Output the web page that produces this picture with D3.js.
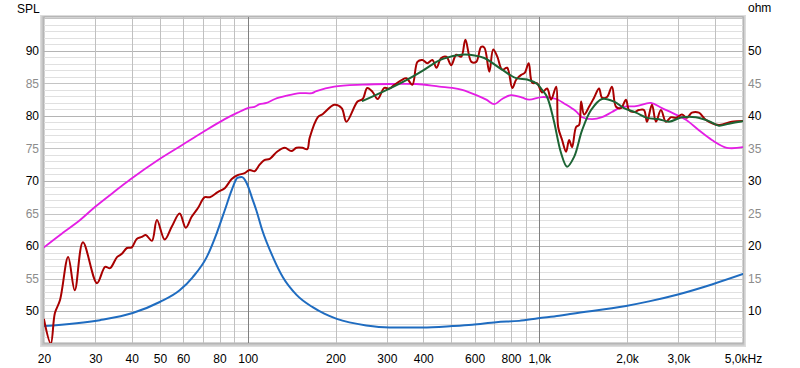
<!DOCTYPE html>
<html>
<head>
<meta charset="utf-8">
<script src="https://cdn.jsdelivr.net/npm/d3@7"></script>
<style>
  body { margin: 0; background: #fff; }
  svg text { font-family: "Liberation Sans", Arial, sans-serif; font-size: 12px; }
</style>
</head>
<body>
<svg id="chart" width="800" height="368"></svg>
<script>
// measured SPL (dark red)
var splFreq = [20, 21.1, 21.8, 22.7, 24.2, 25.5, 27.2, 30.4, 32.4, 33.7,
    35.6, 37, 38.5, 40, 41.6, 43.3, 44.7, 46.9, 48.8, 51.9,
    54.9, 58.4, 61.3, 64.2, 67.4, 71.2, 74.1, 78.9, 83.4, 88.1,
    92.3, 97.6, 101.5, 105.6, 109.8, 114, 119, 126, 134, 141,
    147, 154, 160, 163, 174, 181, 198, 210, 218, 238,
    248, 257, 268, 279, 294, 306, 319, 337, 350, 367,
    382, 397, 413, 430, 444, 461, 480, 499, 519, 540,
    558, 585, 608, 632, 648, 674, 695, 718, 746, 776,
    808, 834, 867, 891, 920, 946, 984, 1023, 1064, 1098,
    1143, 1161, 1198, 1236, 1266, 1296, 1338, 1370, 1392, 1425,
    1482, 1542, 1604, 1642, 1708, 1776, 1834, 1908, 1984, 2031,
    2113, 2198, 2287, 2342, 2436, 2514, 2615, 2720, 2830, 2943,
    3086, 3210, 3339, 3529, 3729, 4132, 4578, 5000];
var splDb = [48.7, 45.0, 49.7, 51.7, 58.3, 53.2, 60.6, 54.3, 56.8, 56.6,
    58.3, 58.8, 59.7, 59.8, 61.1, 61.4, 61.7, 60.8, 64.0, 61.0,
    63.0, 65.0, 62.8, 64.5, 65.8, 67.5, 67.5, 68.3, 68.9, 70.3,
    70.9, 71.2, 71.7, 71.5, 72.5, 73.2, 73.4, 74.5, 75.1, 74.6,
    75.1, 75.1, 74.9, 76.6, 79.8, 80.3, 81.7, 81.2, 79.1, 82.2,
    82.6, 84.3, 83.7, 82.6, 84.3, 84.2, 84.8, 85.5, 85.8, 84.8,
    88.3, 88.6, 88.1, 88.6, 87.4, 88.9, 89.1, 87.8, 89.4, 89.1,
    91.7, 88.3, 88.3, 90.6, 90.5, 86.8, 90.2, 89.1, 87.1, 87.4,
    84.3, 85.6, 86.3, 86.6, 88.1, 85.1, 85.0, 83.6, 84.2, 82.5,
    84.5, 78.3, 76.3, 74.5, 76.3, 75.2, 78.3, 78.6, 82.2, 80.2,
    81.4, 82.8, 84.2, 82.8, 82.9, 84.5, 81.4, 81.2, 82.5, 80.9,
    80.6, 80.9, 80.9, 79.1, 81.7, 79.1, 80.9, 79.1, 79.8, 79.7,
    80.2, 79.7, 80.5, 80.5, 79.4, 78.6, 79.1, 79.2];

// smoothed SPL (green)
var smoothFreq = [248, 300, 350, 400, 444, 470, 540, 600, 648, 746,
    834, 909, 984, 1023, 1064, 1120, 1188, 1246, 1317, 1403,
    1506, 1642, 1806, 1953, 2148, 2342, 2575, 2786, 3086, 3447,
    3818, 4132, 4472, 5000];
var smoothDb = [82.3, 84.0, 85.5, 87.0, 88.3, 88.8, 89.4, 89.3, 88.9, 87.1,
    85.8, 85.6, 84.9, 84.0, 82.9, 79.4, 74.3, 72.2, 73.7, 77.8,
    80.9, 82.6, 82.2, 81.2, 80.5, 79.7, 79.5, 79.1, 79.8, 79.8,
    79.2, 78.5, 78.8, 79.2];

// second SPL curve (magenta)
var refFreq = [20, 22.7, 26.6, 29.9, 34.5, 39.4, 49.1, 59.4, 70.1, 83.4,
    92.3, 100, 105.6, 109.8, 116, 124, 136, 151, 166, 172,
    198, 248, 306, 379, 454, 503, 544, 608, 658, 701,
    746, 801, 874, 923, 1023, 1143, 1230, 1330, 1403, 1518,
    1642, 1776, 1922, 2148, 2416, 2636, 2943, 3185, 3529, 3910,
    4400, 5000];
var refDb = [59.8, 61.7, 64.0, 66.0, 68.2, 70.2, 73.2, 75.5, 77.5, 79.5,
    80.5, 81.2, 81.4, 81.8, 82.0, 82.6, 83.1, 83.5, 83.5, 83.8,
    84.5, 84.8, 84.9, 84.9, 84.5, 84.3, 84.0, 83.2, 82.5, 81.8,
    82.6, 83.2, 82.8, 82.5, 82.9, 82.6, 81.8, 80.8, 79.8, 79.5,
    79.8, 80.6, 81.4, 81.5, 82.0, 81.2, 80.2, 79.4, 77.8, 76.3,
    75.1, 75.2];

// impedance (blue, right axis)
var impFreq = [20, 31.1, 40.3, 49.9, 58.4, 64.7, 72.3, 78.3, 83.4, 88.1,
    92.3, 95.3, 99.1, 104, 107, 112, 122, 132, 147, 167,
    183, 202, 255, 306, 397, 503, 589, 712, 853, 992,
    1170, 1296, 1984, 2378, 3014, 3910, 5000];
var impOhm = [7.7, 8.6, 9.7, 11.4, 13.2, 15.2, 18.3, 22.0, 25.5, 28.6,
    30.5, 30.6, 29.7, 27.1, 25.5, 22.5, 18.3, 15.2, 12.5, 10.6,
    9.6, 8.8, 7.8, 7.5, 7.5, 7.7, 7.9, 8.3, 8.5, 8.9,
    9.3, 9.6, 10.8, 11.5, 12.6, 14.1, 15.7];

var xTicks = [20, 30, 40, 50, 60, 80, 100, 200, 300, 400, 600, 800, 1000, 2000, 3000, 5000];
var xTickLabels = ["20", "30", "40", "50", "60", "80", "100", "200", "300", "400", "600", "800", "1,0k", "2,0k", "3,0k", "5,0kHz"];
var xGrid = [30, 40, 50, 60, 70, 80, 90, 100, 200, 300, 400, 500, 600, 700, 800, 900, 1000, 2000, 3000, 4000];
var splTicks = [50, 55, 60, 65, 70, 75, 80, 85, 90];
var ohmTicks = [10, 15, 20, 25, 30, 35, 40, 45, 50];

var svg = d3.select("#chart"),
    pLeft = 44, pRight = 743, pTop = 17, pBottom = 343;

var x = d3.scaleLog().domain([20, 5000]).range([pLeft, pRight]),
    y = d3.scaleLinear().domain([45.1, 95.2]).range([pBottom, pTop]),
    yOhm = d3.scaleLinear().domain([5.1, 55.2]).range([pBottom, pTop]);

// frame with a soft shadow
svg.append("rect")
    .attr("x", pLeft - 4).attr("y", pTop - 2)
    .attr("width", pRight - pLeft + 7).attr("height", pBottom - pTop + 6)
    .attr("fill", "#dcdcdc");
svg.append("rect")
    .attr("x", pLeft - 2.5).attr("y", pTop - 1)
    .attr("width", pRight - pLeft + 4).attr("height", pBottom - pTop + 3.5)
    .attr("fill", "#c4c4c4");
svg.append("rect")
    .attr("x", pLeft).attr("y", pTop)
    .attr("width", pRight - pLeft).attr("height", pBottom - pTop)
    .attr("fill", "#fff")
    .attr("stroke", "#a8a8a8").attr("stroke-width", 1);

var grid = svg.append("g");

// horizontal grid, one line per dB
d3.range(46, 96).forEach(function(v) {
    var col = v % 10 == 0 ? "#b4b4b4" : (v % 5 == 0 ? "#c4c4c4" : "#e0e0e0");
    grid.append("line")
        .attr("x1", pLeft).attr("x2", pRight)
        .attr("y1", Math.round(y(v)) + 0.5).attr("y2", Math.round(y(v)) + 0.5)
        .attr("stroke", col);
});

// vertical grid
xGrid.forEach(function(f) {
    var dark = (f == 100 || f == 1000);
    grid.append("line")
        .attr("x1", Math.round(x(f)) + 0.5).attr("x2", Math.round(x(f)) + 0.5)
        .attr("y1", pTop).attr("y2", pBottom)
        .attr("stroke", dark ? "#808080" : "#c0c0c0");
});

svg.append("clipPath").attr("id", "plotclip")
    .append("rect")
    .attr("x", pLeft).attr("y", pTop)
    .attr("width", pRight - pLeft).attr("height", pBottom - pTop);

var plot = svg.append("g").attr("clip-path", "url(#plotclip)");

function drawCurve(freqs, vals, scale, color, width, curve) {
    var pts = freqs.map(function(f, i) { return [f, vals[i]]; });
    var line = d3.line()
        .x(function(d) { return x(d[0]); })
        .y(function(d) { return scale(d[1]); })
        .curve(curve || d3.curveCatmullRom.alpha(0.5));
    plot.append("path")
        .datum(pts)
        .attr("fill", "none")
        .attr("stroke", color)
        .attr("stroke-width", width)
        .attr("stroke-linejoin", "round")
        .attr("stroke-linecap", "round")
        .attr("d", line);
}

drawCurve(impFreq, impOhm, yOhm, "#1f6cc0", 2, d3.curveMonotoneX);
drawCurve(refFreq, refDb, y, "#e41ee4", 1.8);
drawCurve(splFreq, splDb, y, "#a80000", 2);
drawCurve(smoothFreq, smoothDb, y, "#1c6434", 2);

// axes
var xAxis = svg.append("g")
    .attr("transform", "translate(0," + pBottom + ")")
    .call(d3.axisBottom(x).tickValues(xTicks).tickSize(0).tickPadding(11)
        .tickFormat(function(d, i) { return xTickLabels[i]; }));
xAxis.select(".domain").remove();
xAxis.selectAll("text").attr("fill", "#000").style("font-size", "12px");

var yAxis = svg.append("g")
    .attr("transform", "translate(" + (pLeft - 5) + ",0)")
    .call(d3.axisLeft(y).tickValues(splTicks).tickSize(0).tickPadding(0));
yAxis.select(".domain").remove();
yAxis.selectAll("text")
    .attr("fill", function(d) { return d % 10 == 0 ? "#000" : "#8c8c8c"; })
    .style("font-size", "12px");

var yAxisR = svg.append("g")
    .attr("transform", "translate(" + (pRight + 5) + ",0)")
    .call(d3.axisRight(yOhm).tickValues(ohmTicks).tickSize(0).tickPadding(0));
yAxisR.select(".domain").remove();
yAxisR.selectAll("text")
    .attr("fill", function(d) { return d % 10 == 0 ? "#000" : "#8c8c8c"; })
    .style("font-size", "12px");

svg.append("text").attr("x", 17).attr("y", 13).attr("fill", "#000").text("SPL");
svg.append("text").attr("x", 748).attr("y", 12).attr("fill", "#000").text("ohm");
</script>
</body>
</html>
